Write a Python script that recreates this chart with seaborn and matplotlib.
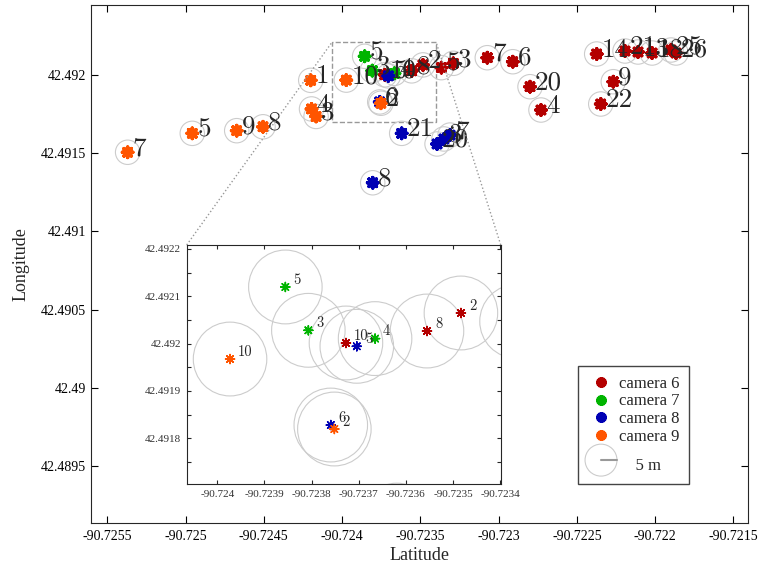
import pandas as pd
import seaborn as sns
import matplotlib
matplotlib.use('Agg')
import matplotlib.pyplot as plt
from matplotlib.patches import Circle
from matplotlib.lines import Line2D
from matplotlib.legend_handler import HandlerBase
from matplotlib.ticker import MultipleLocator, FormatStrFormatter, AutoMinorLocator
from mpl_toolkits.axes_grid1.inset_locator import mark_inset

sns.set_theme(style='ticks')
plt.rcParams['font.family'] = ['Liberation Serif', 'DejaVu Serif']
plt.rcParams['axes.unicode_minus'] = False
plt.rcParams['axes.linewidth'] = 0.8
plt.rcParams['xtick.direction'] = 'in'
plt.rcParams['ytick.direction'] = 'in'
plt.rcParams['xtick.top'] = True
plt.rcParams['ytick.right'] = True

# positions, one list per camera
cam6_id = [10, 8, 2, 5, 3, 7, 6, 20, 4, 14, 9, 22, 21, 13, 18, 25, 26]
cam6_x = [-90.723727, -90.723555, -90.723483, -90.723365, -90.723289, -90.723072,
          -90.722909, -90.722799, -90.722729, -90.722373, -90.722267, -90.722347,
          -90.722192, -90.722109, -90.722019, -90.721898, -90.721866]
cam6_y = [42.4920013, 42.4920266, 42.4920647, 42.4920470, 42.4920748, 42.4921106,
          42.4920850, 42.4919252, 42.4917762, 42.4921343, 42.4919572, 42.4918146,
          42.4921535, 42.4921471, 42.4921407, 42.4921599, 42.4921407]

cam7_id = [5, 3, 4]
cam7_x = [-90.7238556, -90.7238068, -90.7236652]
cam7_y = [42.4921197, 42.4920281, 42.4920106]

cam8_id = [5, 6, 8, 21, 20, 3, 7]
cam8_x = [-90.7237040, -90.7237592, -90.723804, -90.723619, -90.723393, -90.723349, -90.723310]
cam8_y = [42.4919943, 42.4918279, 42.491311, 42.491627, 42.491559, 42.491591, 42.491616]

cam9_id = [7, 5, 9, 8, 1, 4, 3, 10, 2]
cam9_x = [-90.725370, -90.724957, -90.724673, -90.724505, -90.724200, -90.724195,
          -90.724166, -90.723973, -90.7237516]
cam9_y = [42.491506, 42.491627, 42.491644, 42.491669, 42.491966, 42.491783,
          42.491735, 42.4919674, 42.4918195]

cameras = ['camera 6', 'camera 7', 'camera 8', 'camera 9']
colors = ['#b40000', '#00b400', '#0000b4', '#ff5500']
RADIUS = 7.8e-05  # 5 m circle in degrees

frames = []
for name, ids, xs, ys in zip(cameras,
                             [cam6_id, cam7_id, cam8_id, cam9_id],
                             [cam6_x, cam7_x, cam8_x, cam9_x],
                             [cam6_y, cam7_y, cam8_y, cam9_y]):
    frames.append(pd.DataFrame({'camera': name, 'id': ids, 'x': xs, 'y': ys}))
df = pd.concat(frames, ignore_index=True)
palette = dict(zip(cameras, colors))
STAR = (8, 2, 0)


class RadiusHandler(HandlerBase):
    def create_artists(self, legend, orig_handle, xdescent, ydescent,
                       width, height, fontsize, trans):
        cx = 0.5 * width - xdescent
        cy = 0.5 * height - ydescent
        r = 11.5
        ring = Circle((cx, cy), r, facecolor='none', edgecolor='#cccccc',
                      lw=0.8, transform=trans)
        bar = Line2D([cx, cx + r], [cy, cy], color='#999999', lw=1.5,
                     transform=trans)
        return [ring, bar]


def draw_points(ax, size, lw, fs, offset):
    for _, row in df.iterrows():
        ax.add_patch(Circle((row['x'], row['y']), RADIUS, facecolor='none',
                            edgecolor='#cccccc', lw=0.8, zorder=2))
    sns.scatterplot(data=df, x='x', y='y', hue='camera', palette=palette,
                    marker=STAR, s=size, linewidth=lw, legend=False, ax=ax,
                    zorder=3)
    for _, row in df.iterrows():
        ax.annotate(str(row['id']), (row['x'], row['y']), xytext=offset,
                    textcoords='offset pixels', fontsize=fs, family='cmr10',
                    ha='left', va='baseline', zorder=4)


fig = plt.figure(figsize=(7.68, 5.69), dpi=100)
ax = fig.add_axes([0.1185, 0.0814, 0.8551, 0.9098])
draw_points(ax, 56, 2.5, 19.5, (5, -3))
ax.set_xlim(-90.725604, -90.721408)
ax.set_ylim(42.4891375, 42.4924476)
ax.xaxis.set_major_locator(MultipleLocator(0.0005))
ax.yaxis.set_major_locator(MultipleLocator(0.0005))
ax.xaxis.set_major_formatter(FormatStrFormatter('%g'))
ax.yaxis.set_major_formatter(FormatStrFormatter('%g'))
ax.tick_params(axis='both', length=5.3, width=0.8, labelsize=10, colors='black')
ax.tick_params(axis='x', pad=5)
ax.set_xlabel('Latitude', fontsize=13, labelpad=3)
ax.set_ylabel('Longitude', fontsize=13, labelpad=8)

handles = [Line2D([], [], ls='none', marker=STAR, ms=7.5, mew=2.5, color=c)
           for c in colors]
radius_key = Circle((0, 0), 1)
leg = ax.legend(handles + [radius_key], cameras + ['    \n    5 m'],
                handler_map={radius_key: RadiusHandler()},
                loc='upper left', bbox_to_anchor=(0.7522, 0.3573),
                bbox_transform=fig.transFigure, borderaxespad=0,
                borderpad=0.6, handlelength=1.6, handletextpad=0.25,
                labelspacing=0.1, fontsize=12, frameon=True, fancybox=False,
                edgecolor='#444444', framealpha=1)
leg.get_frame().set_linewidth(1.0)
leg.get_texts()[-1].set_linespacing(0.6)

axins = fig.add_axes([0.2431, 0.1489, 0.4089, 0.4206])
draw_points(axins, 42, 1.1, 10.5, (8, 3.4))
axins.set_xlim(-90.724065, -90.7233985)
axins.set_ylim(42.4917027, 42.4922085)
axins.xaxis.set_major_locator(MultipleLocator(0.0001))
axins.yaxis.set_major_locator(MultipleLocator(0.0001))
axins.yaxis.set_minor_locator(AutoMinorLocator(2))
axins.xaxis.set_major_formatter(FormatStrFormatter('%g'))
axins.yaxis.set_major_formatter(FormatStrFormatter('%g'))
axins.tick_params(axis='both', which='both', length=3, width=0.8,
                  labelsize=8, labelcolor='#333333', pad=4)
axins.set_xlabel('')
axins.set_ylabel('')

pp, p1, p2 = mark_inset(ax, axins, loc1=2, loc2=1, fc='none', ec='#999999', lw=1)
pp.set_linestyle('--')
p1.set_linestyle(':')
p2.set_linestyle(':')

fig.savefig('out.png', dpi=100)
